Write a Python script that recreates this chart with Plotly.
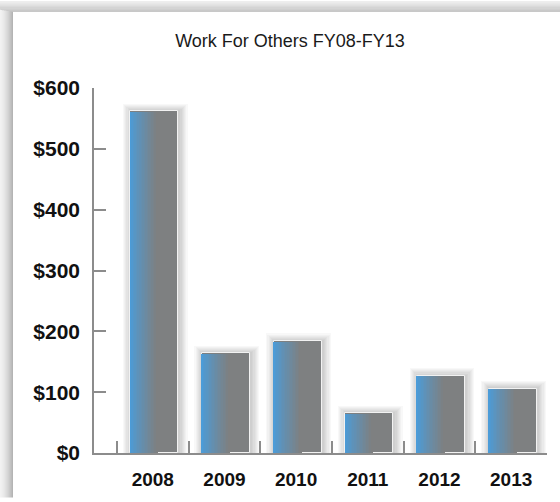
import plotly.graph_objects as go

# Work For Others funding by fiscal year ($ millions)
years = ["2008", "2009", "2010", "2011", "2012", "2013"]
values = [562, 164, 184, 65, 127, 106]

y_ticks = [0, 100, 200, 300, 400, 500, 600]
y_tick_labels = ["$0", "$100", "$200", "$300", "$400", "$500", "$600"]

# canvas geometry (pixels)
FIG_W, FIG_H = 560, 502
M_L, M_R, M_T, M_B = 94, 13, 88, 45
PLOT_W = FIG_W - M_L - M_R
PLOT_H = FIG_H - M_T - M_B
X_RANGE = [-0.82, 5.5]
PX_PER_CAT = PLOT_W / (X_RANGE[1] - X_RANGE[0])
PX_PER_UNIT = PLOT_H / 600.0


def px_to_paper_x(px):
    return (px - M_L) / PLOT_W


def px_to_paper_y(py):
    return (FIG_H - M_B - py) / PLOT_H


def mix(c1, c2, t):
    return "rgb(%d,%d,%d)" % tuple(round(a + (b - a) * t) for a, b in zip(c1, c2))


fig = go.Figure()

BAR_W = 0.67
BAR_SHIFT = 0.02

# soft drop shadow behind each bar
for k in range(1, 8):
    grow = k * 1.2 / PX_PER_CAT
    fig.add_trace(go.Bar(
        x=years, y=[v + k * 1.1 / PX_PER_UNIT for v in values],
        width=BAR_W + 2 * grow, offset=BAR_SHIFT - BAR_W / 2 - grow + 1.0 / PX_PER_CAT,
        marker=dict(color="rgba(0,0,0,0.028)", line=dict(width=0)),
        hoverinfo="skip", showlegend=False,
    ))

# gray body with a light rim
GRAY = (126, 128, 129)
BLUE = (76, 156, 216)
fig.add_trace(go.Bar(
    x=years, y=values, width=BAR_W, offset=BAR_SHIFT - BAR_W / 2,
    marker=dict(color=mix(GRAY, GRAY, 0), line=dict(color="#f2f2f2", width=1)),
    showlegend=False,
))

# blue-to-gray shading on the left part of each bar
N_SLICES = 18
GRAD_FRAC = 0.58
step = BAR_W * GRAD_FRAC / N_SLICES
for i in range(N_SLICES):
    t = i / (N_SLICES - 1)
    t = t ** 0.85
    fig.add_trace(go.Bar(
        x=years, y=[v - 0.6 / PX_PER_UNIT for v in values],
        width=step * 1.15, offset=BAR_SHIFT - BAR_W / 2 + i * step,
        marker=dict(color=mix(BLUE, GRAY, t), line=dict(width=0)),
        hoverinfo="skip", showlegend=False,
    ))

# shaded frame along the top and left edges
shapes = []
LEFT_BAND, TOP_BAND = 13, 11
for j in range(TOP_BAND):
    t = (j + 0.5) / TOP_BAND
    g = round(238 - 60 * t ** 1.6)
    shapes.append(dict(
        type="rect", xref="paper", yref="paper",
        x0=px_to_paper_x(0), x1=px_to_paper_x(FIG_W),
        y0=px_to_paper_y(j + 1), y1=px_to_paper_y(j),
        fillcolor="rgb(%d,%d,%d)" % (g, g, g), line=dict(width=0),
    ))
for i in range(LEFT_BAND):
    t = (i + 0.5) / LEFT_BAND
    g = round(242 - 66 * t ** 1.6)
    shapes.append(dict(
        type="rect", xref="paper", yref="paper",
        x0=px_to_paper_x(i), x1=px_to_paper_x(i + 1),
        y0=px_to_paper_y(FIG_H), y1=px_to_paper_y(TOP_BAND - 2 + i * 0.15),
        fillcolor="rgb(%d,%d,%d)" % (g, g, g), line=dict(width=0),
    ))

AXIS_COLOR = "#8c8c8c"
fig.update_layout(
    width=FIG_W, height=FIG_H,
    margin=dict(l=M_L, r=M_R, t=M_T, b=M_B, pad=0),
    paper_bgcolor="white", plot_bgcolor="white",
    barmode="overlay", bargap=0,
    shapes=shapes,
    title=dict(
        text="Work For Others FY08-FY13",
        x=290 / FIG_W, xref="container", xanchor="center",
        y=1 - 41 / FIG_H, yref="container", yanchor="middle",
        font=dict(family="Liberation Sans", size=18, color="#1a1a1a"),
    ),
    xaxis=dict(
        type="category", categoryorder="array", categoryarray=years,
        range=X_RANGE, showgrid=False, zeroline=False,
        showline=True, linecolor=AXIS_COLOR, linewidth=1.5,
        ticks="inside", tickson="boundaries", ticklen=12,
        tickcolor=AXIS_COLOR, tickwidth=1.5,
        ticklabelstandoff=8,
        tickfont=dict(family="Liberation Sans", size=19, weight="bold", color="#111"),
    ),
    yaxis=dict(
        range=[0, 600], tickvals=y_ticks, ticktext=y_tick_labels,
        showgrid=False, zeroline=False,
        showline=True, linecolor=AXIS_COLOR, linewidth=1.5,
        ticks="inside", ticklen=12, tickcolor=AXIS_COLOR, tickwidth=1.5,
        ticklabelstandoff=8,
        tickfont=dict(family="Liberation Sans", size=21, weight="bold", color="#111"),
    ),
)

fig.write_html("out.html")
